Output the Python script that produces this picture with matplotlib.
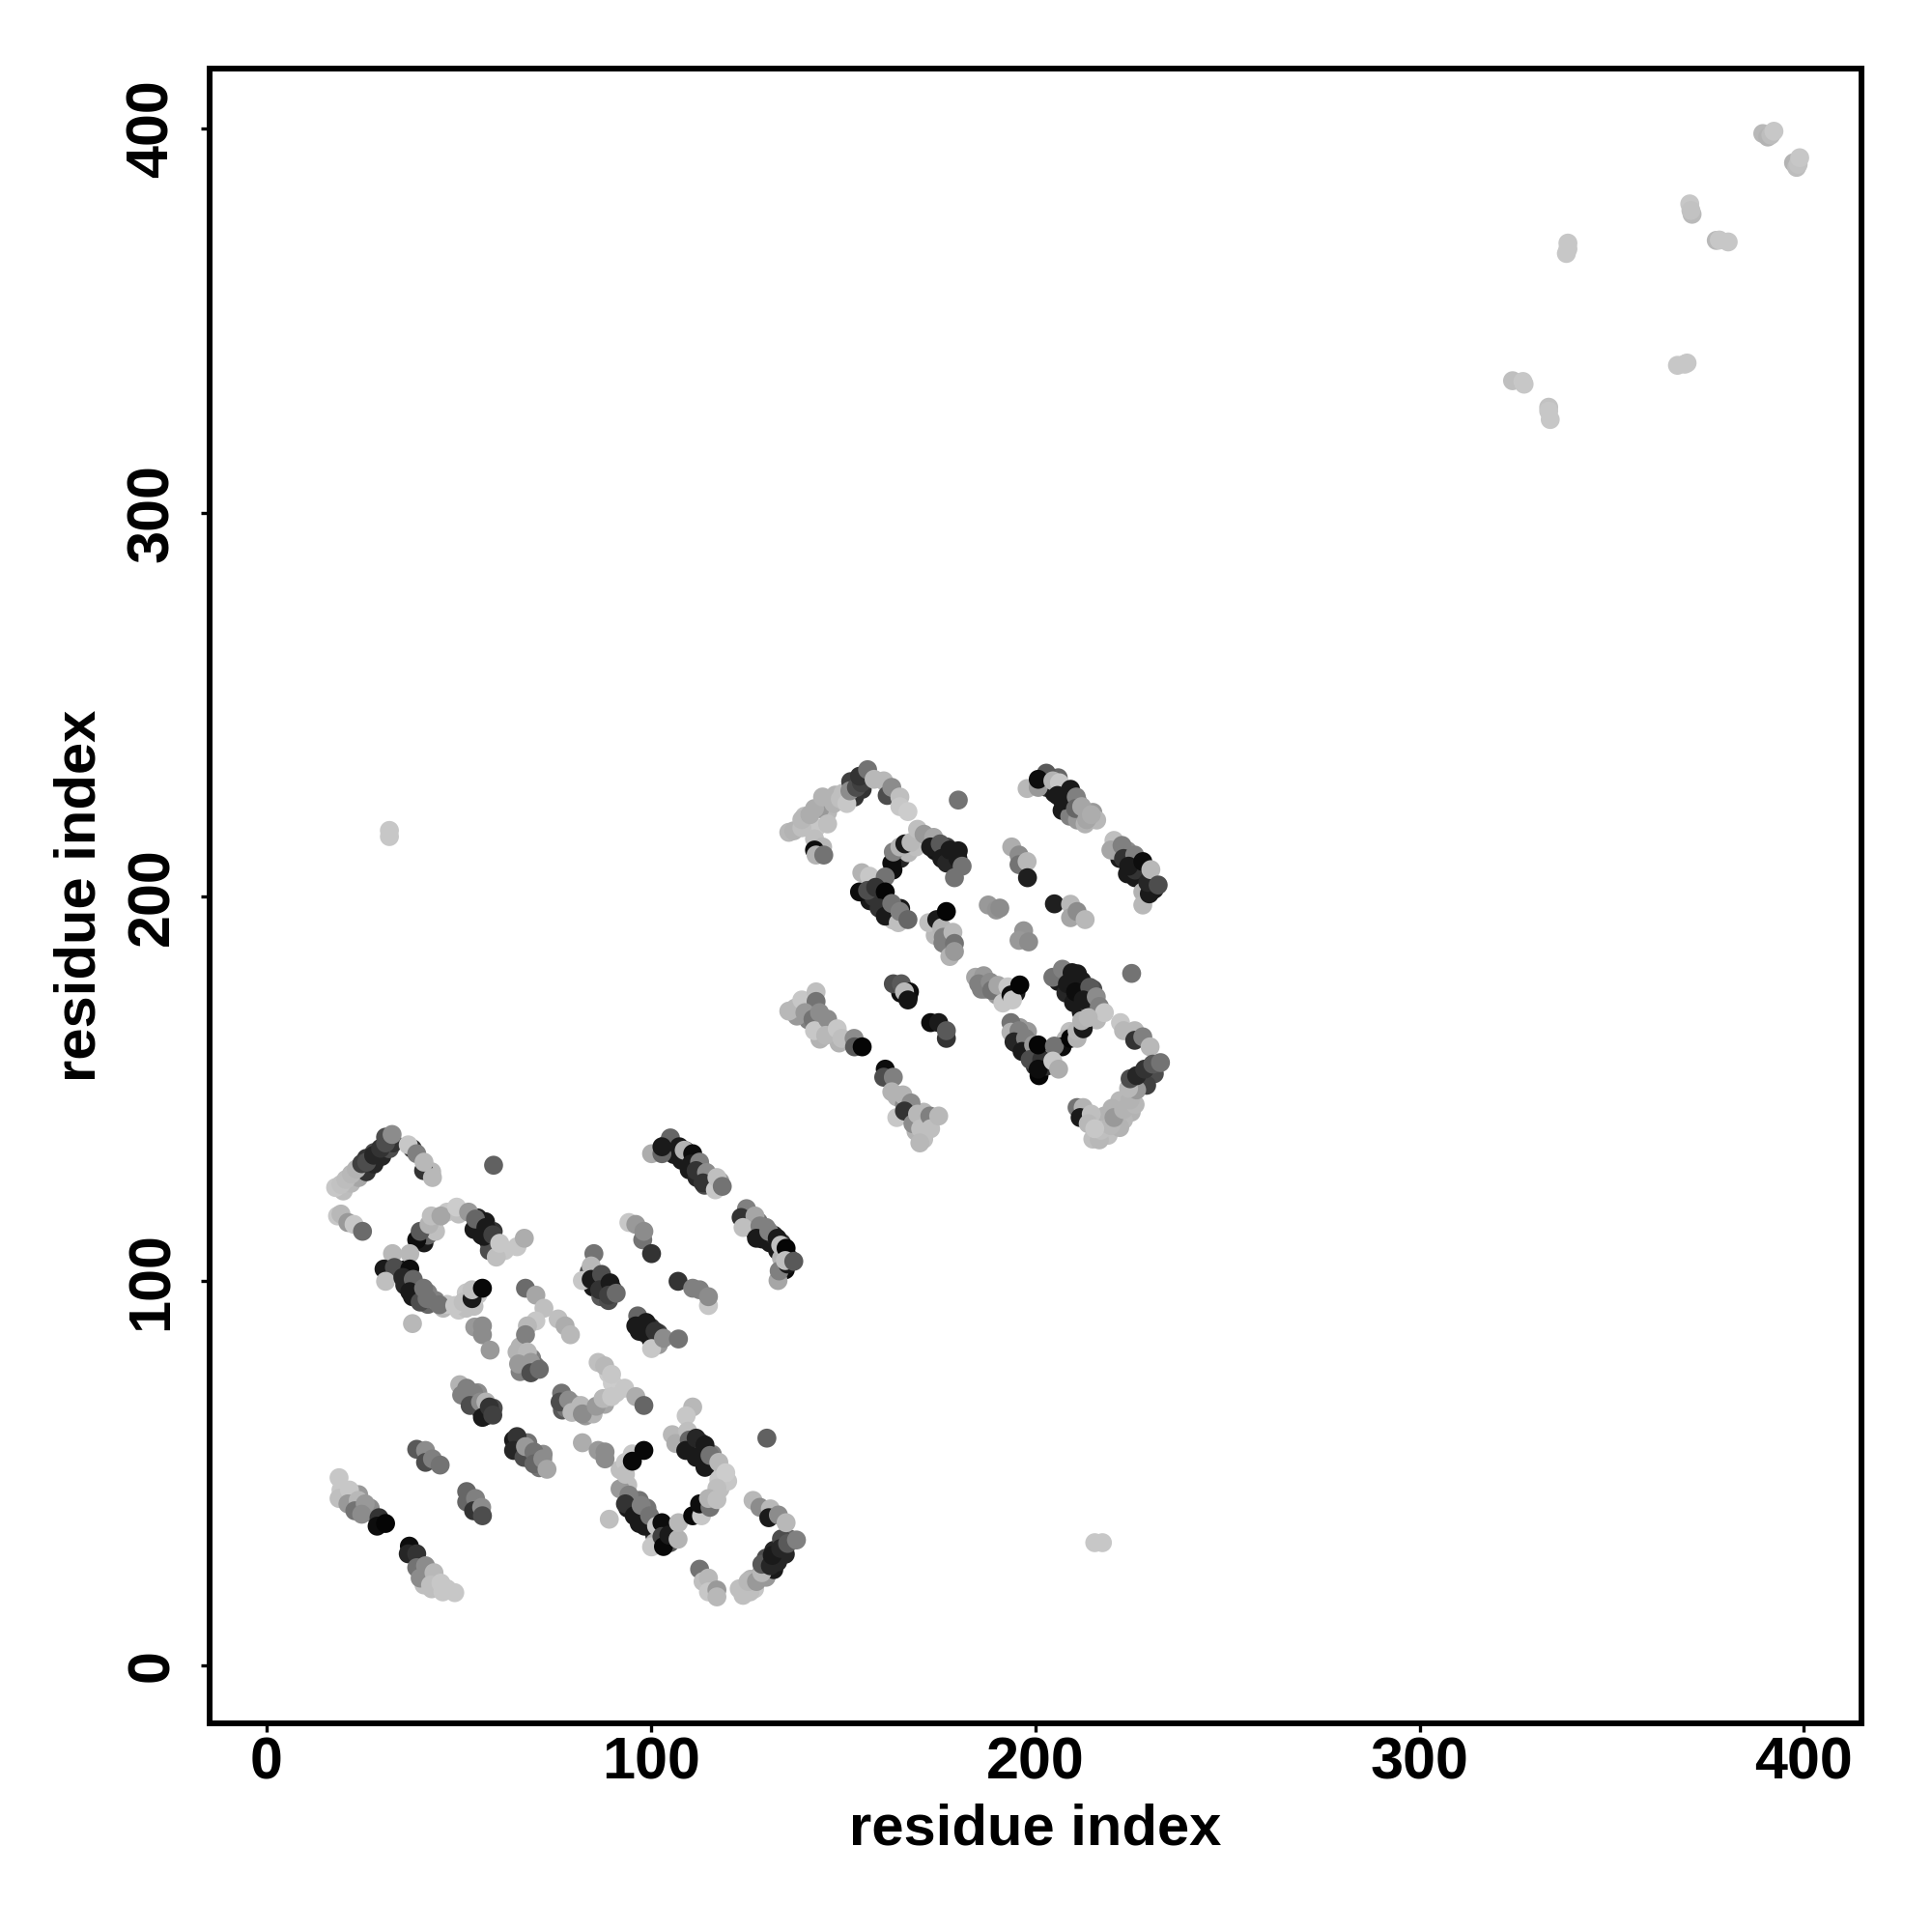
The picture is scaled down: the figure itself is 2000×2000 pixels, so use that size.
import matplotlib
matplotlib.use("Agg")
import matplotlib.pyplot as plt

residue_x = [
 18.0,19.4,20.7,22.1,23.4,24.8,26.1,27.9,29.7,31.0,32.7,
 36.9,40.9,39.1,41.0,43.2,
 18.5,19.4,21.2,22.8,25.0,
 59.1,
 39.1,40.0,42.3,42.9,45.4,49.5,52.6,54.4,58.0,56.6,57.1,58.9,59.8,60.7,65.2,67.1,
 32.8,37.3,30.6,33.3,37.3,31.0,35.5,38.2,37.3,40.0,40.9,41.8,45.0,49.0,51.2,53.5,53.5,56.2,38.0,
 54.2,56.2,56.2,58.2,
 67.4,70.1,72.2,75.9,77.7,79.1,70.1,67.9,67.4,65.2,67.9,65.6,68.8,68.8,71.0,
 85.2,84.5,82.2,84.5,87.2,86.7,89.4,89.0,91.0,
 94.3,96.1,97.9,98.2,100.2,
 107.1,110.9,115.0,112.7,115.0,
 96.6,96.1,98.8,98.4,101.1,100.2,103.3,107.2,
 100.2,102.9,105.1,102.9,107.4,108.7,110.9,110.5,112.7,111.8,114.5,113.6,116.8,117.2,118.6,
 124.9,123.5,127.1,124.0,128.4,127.5,130.7,132.9,133.8,133.1,133.4,135.6,135.2,135.0,137.2,
 18.9,19.4,18.9,21.6,21.2,23.9,23.0,25.7,24.8,29.3,28.8,31.0,
 37.2,36.9,39.1,39.1,41.4,40.0,43.6,42.7,45.4,45.9,49.0,
 39.1,41.4,41.4,43.2,45.2,
 52.1,52.1,54.4,53.9,56.0,56.2,
 50.3,52.1,50.8,53.9,53.0,55.7,57.1,56.2,58.0,58.9,
 64.3,65.2,64.3,67.0,67.4,69.6,69.6,71.9,73.0,
 76.8,76.4,78.6,79.5,81.8,82.2,85.8,87.6,89.8,86.3,88.0,89.8,93.2,96.1,98.2,
 82.2,86.3,88.1,88.1,89.2,
 110.9,109.2,105.6,106.5,109.6,110.0,109.1,111.8,111.8,114.1,114.1,115.4,117.7,117.7,119.5,117.2,
 93.4,93.4,95.2,95.2,98.2,
 94.3,93.4,95.7,97.5,98.4,99.7,100.2,101.5,102.9,102.9,103.3,104.7,107.1,107.2,
 110.9,113.2,112.7,115.4,115.0,117.2,
 130.2,
 126.6,128.4,131.1,130.7,133.2,135.2,
 124.0,125.8,125.3,127.5,128.9,128.9,131.1,131.6,133.8,135.6,137.9,
 112.7,113.6,115.0,115.0,117.2,117.2,
 135.9,137.2,139.3,139.3,141.4,142.6,144.7,147.6,149.3,151.0,151.8,153.5,154.8,154.3,156.4,
 158.1,160.6,161.5,162.7,164.8,164.8,166.9,
 142.6,144.7,142.6,143.0,145.0,
 180.0,
 162.7,163.1,164.8,166.1,167.7,169.4,171.1,173.6,172.8,175.3,175.7,177.0,177.8,179.0,179.9,181.0,
 154.9,156.9,161.0,154.3,156.4,158.5,161.0,159.4,161.0,162.7,164.4,164.8,166.9,
 172.3,174.4,175.7,176.9,176.1,178.6,177.8,179.0,179.0,
 187.8,189.9,190.8,
 197.0,195.8,198.3,
 193.9,195.8,195.8,197.9,198.0,
 205.0,209.2,209.2,210.9,213.0,
 197.9,200.8,202.9,200.8,204.6,206.3,205.8,209.2,207.1,210.7,210.5,212.1,213.4,214.6,
 220.5,219.7,222.6,223.0,225.9,224.3,228.0,228.0,228.0,229.7,229.3,230.1,232.0,
 135.9,137.6,139.3,143.0,143.0,140.1,142.2,143.9,142.6,146.0,145.5,148.5,149.7,152.9,153.0,155.0,
 161.0,160.6,163.1,162.7,165.6,167.7,164.0,166.0,168.2,169.4,170.2,172.6,172.8,170.0,174.9,
 163.1,165.2,167.3,166.0,166.9,
 172.8,174.9,176.9,176.9,
 184.5,186.6,185.3,188.3,188.7,190.3,191.6,192.9,193.7,194.1,196.0,
 204.6,207.1,209.6,208.4,212.1,210.5,214.2,212.5,215.9,216.7,218.0,
 225.1,
 193.7,193.7,195.8,194.5,197.5,196.6,199.6,198.7,201.7,200.8,200.8,205.0,204.6,206.1,
 209.2,210.9,210.9,212.5,212.1,213.8,
 222.2,223.0,225.9,225.9,228.0,229.9,
 216.7,217.1,219.7,220.5,223.0,226.0,224.7,226.4,224.3,224.7,226.4,228.5,230.6,232.6,
 210.9,212.5,211.7,214.6,213.8,215.5,
 32.0,32.0,
 215.5,217.5,
 324.2,326.9,327.2,
 333.6,333.6,334.0,
 338.2,338.6,338.6,
 367.1,369.6,369.0,
 370.9,370.3,370.6,
 377.2,378.0,380.3,
 389.3,390.6,391.4,392.2,
 397.3,398.1,398.5,398.9,
]

residue_y = [
 124.4,125.2,126.5,127.9,129.2,130.6,131.0,132.8,134.6,136.0,138.2,
 135.5,128.8,133.2,131.0,127.0,
 117.0,117.5,115.3,114.8,113.0,
 130.2,
 110.8,113.0,114.8,117.0,117.0,119.3,118.0,116.2,108.0,111.7,114.0,112.1,106.3,109.9,109.0,111.2,
 107.2,107.2,103.2,103.6,103.2,100.0,101.0,100.5,97.3,94.6,98.2,95.5,93.9,93.7,94.6,95.5,97.8,98.2,89.0,
 88.1,88.4,86.1,82.1,
 98.2,96.4,93.0,90.2,88.4,86.1,89.7,88.4,86.1,81.6,81.6,78.5,78.9,76.2,77.1,
 107.2,104.0,100.2,100.5,101.8,97.8,99.6,96.4,96.9,
 115.3,114.8,110.8,113.0,107.2,
 100.0,98.2,93.7,97.8,96.0,
 91.0,88.4,89.3,86.6,87.0,82.5,85.2,85.0,
 133.2,133.2,137.3,135.0,135.0,134.1,133.2,130.5,131.0,128.8,128.3,125.6,123.8,127.0,124.7,
 118.9,116.6,117.0,114.0,114.4,111.2,113.0,111.2,109.4,100.2,102.7,104.5,108.6,105.4,105.2,
 48.9,45.7,43.5,45.7,42.1,43.0,40.3,42.1,39.4,38.5,36.3,37.0,
 31.1,29.1,29.1,25.5,26.0,22.8,24.2,21.0,21.5,19.2,19.0,
 56.3,56.0,52.9,53.8,52.2,
 45.3,42.6,43.5,40.3,41.2,39.0,
 73.1,72.2,70.4,70.9,67.7,68.6,68.6,64.6,67.3,65.2,
 58.7,59.6,56.0,54.2,57.0,55.6,52.5,53.8,51.1,
 70.9,68.6,69.1,65.9,67.7,65.5,67.5,69.5,70.0,78.9,78.0,75.8,72.2,70.0,67.7,
 58.0,56.0,55.6,53.8,38.1,
 67.3,65.0,60.1,57.8,61.0,58.7,56.0,59.2,54.2,57.4,51.6,54.7,52.9,48.4,50.2,46.2,
 52.9,49.8,55.1,53.2,56.0,
 44.4,42.1,39.0,41.7,36.3,39.0,30.9,36.3,37.2,33.6,31.0,34.0,32.9,37.2,
 39.0,39.0,42.1,41.2,43.5,43.2,
 59.2,
 43.0,41.2,40.8,38.5,39.2,37.2,
 18.3,19.2,21.9,21.9,24.2,26.4,26.0,28.7,30.5,31.8,32.7,
 25.1,21.9,22.8,19.2,19.7,17.9,
 216.8,217.2,218.0,220.1,221.4,223.0,226.0,224.3,225.5,224.3,227.6,228.5,229.7,231.4,233.1,
 230.6,230.2,226.4,228.5,226.0,223.5,222.2,
 215.1,213.0,212.2,210.9,210.9,
 225.2,
 208.8,211.7,213.0,213.8,214.2,217.6,216.3,215.5,213.0,213.8,210.0,208.8,212.2,205.0,210.0,208.0,
 206.3,205.4,205.2,201.3,201.7,202.5,201.3,197.1,195.0,198.3,193.3,196.2,194.1,
 193.3,194.1,192.0,196.2,189.5,190.8,184.5,187.9,185.8,
 197.9,196.6,197.1,
 191.2,188.7,188.3,
 213.0,210.9,208.4,209.2,205.0,
 198.2,198.1,194.6,196.2,194.1,
 228.2,228.5,232.2,230.6,230.2,229.7,226.4,228.0,225.1,226.0,223.0,223.5,220.1,221.4,
 214.7,212.2,213.4,210.0,210.9,208.0,209.2,201.3,197.9,200.8,203.8,207.1,203.1,
 170.3,171.1,173.2,175.3,172.8,169.9,168.2,169.9,165.2,168.2,164.0,165.7,163.2,163.2,161.0,161.0,
 155.2,153.1,153.1,149.3,148.5,146.4,142.6,144.3,141.0,143.5,139.7,143.0,139.7,136.0,143.0,
 177.4,177.4,175.3,175.3,173.2,
 167.3,167.3,163.2,165.2,
 179.1,179.5,177.4,177.8,175.7,177.0,172.4,176.6,174.5,173.2,177.1,
 179.1,181.2,180.3,177.4,178.2,175.3,176.5,173.2,174.0,171.5,169.9,
 180.1,
 167.3,164.8,165.2,162.3,163.2,159.8,161.5,157.7,157.7,155.2,161.5,161.2,157.3,155.2,
 163.2,163.2,165.2,165.7,167.8,168.6,
 167.3,165.2,165.2,162.7,163.6,161.0,
 136.8,139.3,140.5,142.6,144.7,146.0,147.2,149.8,150.2,152.7,153.5,155.2,156.5,156.9,
 145.2,145.2,142.6,143.5,141.0,139.7,
 215.7,217.3,
 32.0,32.0,
 334.3,334.1,333.4,
 327.4,326.4,324.2,
 367.4,370.1,368.6,
 338.3,338.9,338.6,
 377.6,380.3,378.6,
 370.8,370.9,370.4,
 398.6,397.7,398.2,399.2,
 391.0,389.8,390.6,392.3,
]

shade = [
 .78,.76,.74,.72,.70,.25,.30,.15,.20,.30,.55,
 .78,.20,.50,.72,.72,
 .78,.72,.60,.78,.42,
 .38,
 .05,.35,.70,.75,.65,.80,.60,.40,.30,.10,.10,.25,.75,.78,.78,.68,
 .72,.72,.10,.30,.05,.75,.15,.40,.10,.30,.45,.45,.45,.78,.75,.10,.75,.03,.72,
 .60,.55,.55,.60,
 .42,.65,.75,.75,.68,.72,.78,.72,.50,.70,.72,.60,.60,.30,.42,
 .45,.72,.78,.10,.30,.20,.10,.25,.42,
 .78,.60,.45,.55,.20,
 .20,.50,.78,.50,.55,
 .40,.10,.10,.10,.20,.78,.55,.45,
 .68,.40,.40,.10,.10,.70,.05,.10,.50,.20,.55,.20,.78,.75,.45,
 .50,.20,.65,.75,.50,.10,.50,.10,.75,.65,.50,.10,.02,.75,.35,
 .78,.78,.75,.78,.60,.72,.45,.60,.55,.20,.05,.02,
 .05,.15,.20,.45,.55,.55,.72,.75,.78,.78,.78,
 .35,.55,.30,.50,.45,
 .40,.40,.50,.20,.55,.30,
 .70,.50,.50,.50,.30,.55,.70,.10,.20,.25,
 .10,.20,.15,.30,.60,.45,.40,.55,.65,
 .45,.30,.55,.72,.72,.55,.60,.72,.78,.75,.72,.78,.78,.68,.40,
 .68,.60,.55,.55,.75,
 .72,.78,.72,.68,.75,.40,.10,.15,.10,.10,.10,.45,.72,.78,.80,.75,
 .78,.75,.78,.03,.03,
 .50,.20,.10,.50,.10,.45,.78,.78,.05,.25,.03,.10,.70,.72,
 .03,.78,.05,.45,.70,.75,
 .38,
 .72,.55,.72,.10,.55,.72,
 .75,.75,.72,.60,.72,.35,.15,.10,.15,.35,.50,
 .45,.75,.72,.78,.60,.72,
 .72,.70,.75,.72,.68,.68,.70,.70,.75,.78,.55,.30,.25,.20,.45,
 .72,.72,.30,.55,.75,.78,.80,
 .75,.72,.05,.70,.45,
 .45,
 .05,.50,.70,.10,.72,.75,.60,.65,.10,.35,.10,.15,.10,.45,.10,.45,
 .70,.78,.45,.05,.30,.20,.02,.20,.10,.45,.75,.50,.40,
 .75,.10,.70,.02,.50,.72,.70,.45,.60,
 .60,.58,.55,
 .58,.60,.55,
 .68,.55,.45,.72,.12,
 .12,.72,.65,.55,.72,
 .72,.60,.35,.05,.70,.78,.10,.10,.10,.50,.40,.65,.65,.68,
 .75,.65,.50,.20,.50,.10,.05,.70,.72,.10,.15,.72,.30,
 .72,.72,.78,.75,.45,.60,.45,.55,.78,.55,.72,.78,.75,.55,.35,.02,
 .05,.30,.50,.70,.70,.55,.78,.20,.55,.72,.75,.50,.75,.72,.72,
 .30,.35,.05,.72,.08,
 .05,.10,.20,.35,
 .65,.60,.50,.55,.45,.65,.78,.78,.05,.78,.02,
 .45,.50,.10,.10,.10,.05,.35,.10,.55,.50,.78,
 .45,
 .45,.70,.50,.15,.50,.10,.60,.30,.20,.05,.02,.45,.78,.68,
 .02,.70,.72,.10,.70,.72,
 .78,.72,.72,.20,.50,.72,
 .72,.75,.72,.60,.70,.72,.70,.60,.72,.30,.15,.20,.35,.45,
 .45,.70,.10,.75,.72,.78,
 .78,.78,
 .78,.78,
 .75,.78,.78,
 .76,.78,.78,
 .78,.78,.78,
 .78,.78,.78,
 .73,.78,.76,
 .72,.78,.78,
 .72,.70,.74,.78,
 .70,.74,.76,.78,
]

# contacts partly hidden under the ones above
under_x = [
 20,22,24,26,28,30,32,31,33,28,26,38,41,43,
 54,56,58,55,57,59,47,50,44,41,42,44,60,62,60,
 36,38,40,42,44,42,46,47,50,52,54,52,55,34,36,
 85,86,88,87,89,84,90,
 97,99,97,100,102,102,100,102,
 104,106,108,110,112,114,116,109,111,113,115,117,118,
 125,127,129,131,133,126,128,130,132,134,135,136,134,
 20,22,24,26,27,24,27,
 41,43,44,41,43,47,
 52,54,56,57,51,55,59,
 65,67,69,71,68,72,
 77,78,80,83,85,88,91,90,89,
 112,114,116,113,116,118,118,120,96,98,100,101,97,99,94,97,104,105,101,94,92,92,
 126,127,128,130,129,132,133,130,132,135,136,134,123,
 69,70,66,66,
 146,148,150,152,153,155,156,144,140,143,146,
 174,176,178,170,172,177,180,165,167,169,163,
 157,160,161,163,163,165,158,165,
 175,177,178,174,176,
 203,205,207,209,211,213,208,211,215,216,206,
 222,224,226,221,227,229,231,224,226,
 206,208,210,212,214,211,215,213,216,
 195,197,199,201,203,200,196,198,209,208,207,
 227,229,231,229,222,220,218,225,223,219,215,222,
 147,149,145,144,141,138,
 164,166,168,170,171,169,171,
 187,190,192,186,195,
 165,167,
]
under_y = [
 123.5,125.5,127,128.5,130.5,132.5,134.5,137.5,136,133.5,132,134.5,129,128.5,
 113.5,112,110,116.5,115.5,113,118,117.5,116,110,112,113,107.5,108,110,
 99,96,97,94,95,97,93,94,92.5,93,93.5,97,96.5,102,103,
 98.5,100,98,96,95,102.5,98,
 89.5,87,87,85,84,86.5,88,83.5,
 135.5,133,131.5,129,127,125,125,134,132,129.5,127.5,124.5,126,
 115,113,111,110,108,117,115.5,114,112,110,103,106,106,
 44,43,41,40.5,40,44.5,41,
 24,22.5,21,21,20,20,
 70,68,66,65,71.5,71,67,
 57.5,55.5,53.5,51.5,58,55,
 66.5,67,68,65,65.5,68,71,73.5,76,
 56,54,52,58,55,51,46,48,41,39,37,34,43,41,41,37,36,32,32,47,51,46,
 22.5,20,23,23,24.5,25,27,28,30,29,33,33,20,
 80,78,83,76.5,
 222,226.5,227,230,226,228,231,223,221,218,219,
 212,211,209,214,215,213,212,210,211.5,213,207,
 199,198,199,196,194,194,200,197,
 191,187.5,187,190,188,
 228.5,227,222.5,221,220,219,227,225,222,220,231,
 210,206,205,212,208,205,202,212,207,
 178,175,172.5,170,172,180,176,168,168,
 162,160,158,153.5,156,156,166,165,165,163,161,
 152,153,154,151,147,145,143,144,142,138,137,140,
 165,162,167,163,168,169,
 148,146,144,142,137,139,144,
 176,174.5,173,176,175,
 175,174,
]
under_shade = [
 .74,.72,.65,.20,.15,.15,.30,.30,.20,.30,.20,.20,.75,.72,
 .10,.10,.10,.15,.10,.20,.78,.75,.70,.10,.40,.75,.75,.78,.30,
 .15,.10,.40,.40,.50,.50,.72,.78,.78,.75,.75,.78,.78,.20,.10,
 .10,.15,.10,.35,.30,.30,.10,
 .15,.15,.10,.10,.40,.25,.20,.60,
 .20,.10,.10,.10,.15,.30,.20,.20,.10,.40,.70,.25,.60,
 .10,.10,.10,.10,.10,.40,.45,.50,.15,.20,.05,.30,.70,
 .60,.50,.50,.30,.30,.60,.55,
 .45,.55,.60,.75,.75,.78,
 .35,.25,.15,.10,.45,.55,.30,
 .10,.20,.30,.45,.45,.55,
 .35,.45,.70,.60,.70,.65,.78,.80,.80,
 .10,.10,.20,.20,.50,.75,.75,.78,.20,.20,.20,.20,.45,.45,.10,.10,.10,.35,.70,.75,.75,.60,
 .70,.78,.70,.60,.35,.10,.15,.30,.15,.15,.40,.30,.75,
 .50,.45,.70,.50,
 .72,.70,.75,.25,.20,.20,.20,.60,.75,.78,.75,
 .08,.10,.10,.60,.55,.25,.10,.15,.72,.75,.05,
 .10,.40,.10,.30,.75,.72,.20,.10,
 .50,.60,.72,.72,.50,
 .20,.10,.10,.50,.60,.70,.20,.60,.60,.72,.40,
 .10,.10,.10,.55,.15,.10,.10,.55,.20,
 .10,.15,.10,.10,.30,.10,.30,.70,.72,
 .15,.10,.10,.02,.20,.20,.60,.60,.75,.72,.05,
 .15,.15,.30,.25,.72,.70,.70,.70,.72,.75,.75,.70,
 .60,.70,.50,.70,.50,.60,
 .70,.55,.45,.55,.75,.70,.72,
 .55,.60,.78,.50,.10,
 .05,.05,
]

x_ticks = [0, 100, 200, 300, 400]
y_ticks = [0, 100, 200, 300, 400]
x_title = "residue index"
y_title = "residue index"

plt.rcParams["font.family"] = ["Liberation Sans", "DejaVu Sans"]
plt.rcParams["font.weight"] = "bold"

fig = plt.figure(figsize=(10, 10), dpi=200)
ax = fig.add_axes([0.10835, 0.108, 0.8553, 0.8563])
ax.scatter(under_x, under_y, s=50, c=[str(v) for v in under_shade], linewidths=0, zorder=2)
ax.scatter(residue_x, residue_y, s=50, c=[str(v) for v in shade], linewidths=0, zorder=3)
ax.set_xlim(-14.85, 415.05)
ax.set_ylim(-15.0, 415.4)
for s in ax.spines.values():
    s.set_linewidth(2.15)
ax.set_xticks(x_ticks)
ax.set_yticks(y_ticks)
ax.tick_params(axis="x", length=3.2, width=1.2, labelsize=22, pad=1.5)
ax.tick_params(axis="y", length=3.2, width=1.2, labelsize=22, pad=7.5)
for lab in ax.get_yticklabels():
    lab.set_rotation(90)
    lab.set_va("center")
ax.set_xlabel(x_title, fontsize=21.5, fontweight="bold", labelpad=4.5)
ax.set_ylabel(y_title, fontsize=21.5, fontweight="bold", labelpad=7)
fig.savefig("out.png", dpi=200, facecolor="white")
